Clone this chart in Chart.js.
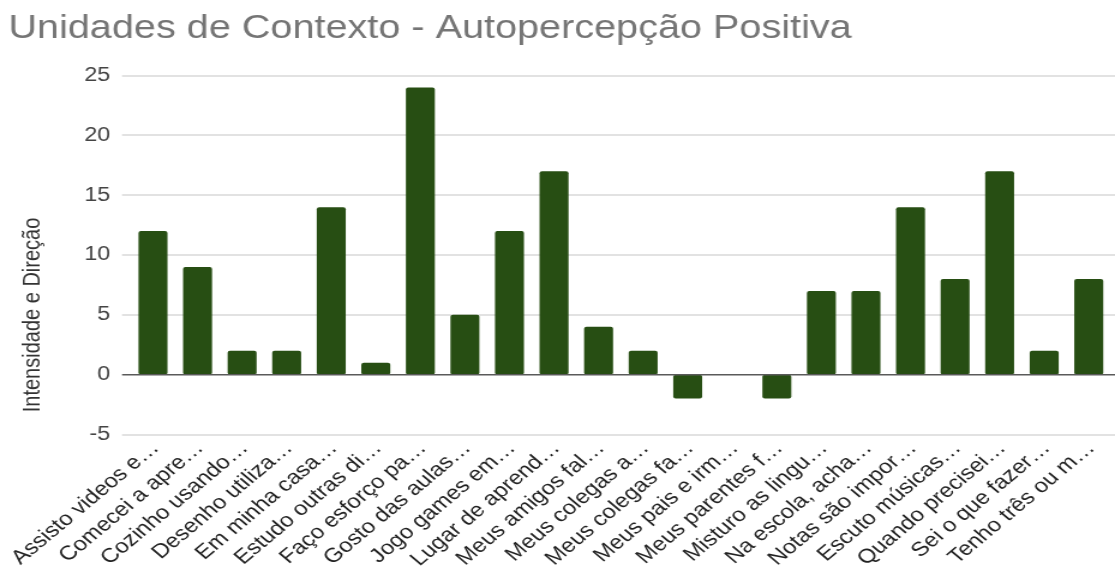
<!DOCTYPE html>
<html lang="pt">
<head>
<meta charset="utf-8">
<title>Unidades de Contexto - Autopercepção Positiva</title>
<script src="https://cdn.jsdelivr.net/npm/chart.js@4.4.1/dist/chart.umd.min.js"></script>
<style>
  html, body { margin: 0; padding: 0; background: #fff; overflow: hidden; }
  /* the chart is laid out on a narrower canvas and widened horizontally */
  #wrap { width: 929px; height: 574px; transform: scaleX(1.2002); transform-origin: 0 0; }
</style>
</head>
<body>
<div id="wrap"><canvas id="chart"></canvas></div>
<script>
const chartTitle = 'Unidades de Contexto - Autopercepção Positiva';
const yAxisTitle = 'Intensidade e Direção';

const categories = [
  'Assisto videos e…', 'Comecei a apre…', 'Cozinho usando…', 'Desenho utiliza…',
  'Em minha casa…', 'Estudo outras di…', 'Faço esforço pa…', 'Gosto das aulas…',
  'Jogo games em…', 'Lugar de aprend…', 'Meus amigos fal…', 'Meus colegas a…',
  'Meus colegas fa…', 'Meus pais e irm…', 'Meus parentes f…', 'Misturo as lingu…',
  'Na escola, acha…', 'Notas são impor…', 'Escuto músicas…', 'Quando precisei…',
  'Sei o que fazer…', 'Tenho três ou m…'
];

const values = [12, 9, 2, 2, 14, 1, 24, 5, 12, 17, 4, 2, -2, 0, -2, 7, 7, 14, 8, 17, 2, 8];

const yTicks = [-5, 0, 5, 10, 15, 20, 25];

const FONT = '"Liberation Sans", Arial, sans-serif';

// horizontal grid lines reach a little left of the plot area, like the baseline
const gridPlugin = {
  id: 'sheetGrid',
  beforeDatasetsDraw(chart) {
    const { ctx, scales: { y } } = chart;
    ctx.save();
    ctx.strokeStyle = '#e2e2e2';
    ctx.lineWidth = 2;
    y.ticks.forEach(t => {
      if (t.value === 0) return;
      const py = Math.round(y.getPixelForValue(t.value));
      ctx.beginPath();
      ctx.moveTo(101.7, py);
      ctx.lineTo(chart.width, py);
      ctx.stroke();
    });
    ctx.restore();
  },
  afterDatasetsDraw(chart) {
    const { ctx, scales: { y } } = chart;
    const py = y.getPixelForValue(0);
    ctx.save();
    ctx.strokeStyle = '#5a5a5a';
    ctx.lineWidth = 1.6;
    ctx.beginPath();
    ctx.moveTo(101.7, py);
    ctx.lineTo(chart.width, py);
    ctx.stroke();
    ctx.restore();
  }
};

new Chart(document.getElementById('chart'), {
  type: 'bar',
  data: {
    labels: categories,
    datasets: [{
      label: yAxisTitle,
      data: values,
      backgroundColor: '#274e13',
      borderWidth: 0,
      borderRadius: 2,
      borderSkipped: false,
      barPercentage: 0.65,
      categoryPercentage: 1.0
    }]
  },
  options: {
    responsive: true,
    maintainAspectRatio: false,
    animation: false,
    devicePixelRatio: 1,
    layout: { padding: { left: 7, right: 3.3, top: 0, bottom: 0 } },
    plugins: {
      legend: { display: false },
      tooltip: { enabled: false },
      title: {
        display: true,
        text: chartTitle,
        align: 'start',
        color: '#757575',
        font: { family: FONT, size: 33, weight: 'normal' },
        padding: { top: 9, bottom: 27 }
      }
    },
    scales: {
      x: {
        grid: { display: false, drawTicks: false },
        border: { display: false },
        ticks: {
          autoSkip: false,
          maxRotation: 45,
          minRotation: 45,
          padding: 2,
          labelOffset: 2,
          color: '#222',
          font: { family: FONT, size: 20 }
        },
        afterFit(scale) { scale.height = 139.5; }
      },
      y: {
        min: -5,
        max: 25,
        grid: { display: false, drawTicks: false },
        border: { display: false },
        afterBuildTicks(scale) { scale.ticks = yTicks.map(v => ({ value: v })); },
        ticks: {
          padding: 17,
          color: '#444',
          font: { family: FONT, size: 19.5 }
        },
        title: {
          display: true,
          text: '    ' + yAxisTitle,
          align: 'start',
          color: '#333',
          font: { family: FONT, size: 20 },
          padding: { top: 8, bottom: 0 }
        },
        afterFit(scale) { scale.width = 101.9; }
      }
    }
  },
  plugins: [gridPlugin]
});
</script>
</body>
</html>
